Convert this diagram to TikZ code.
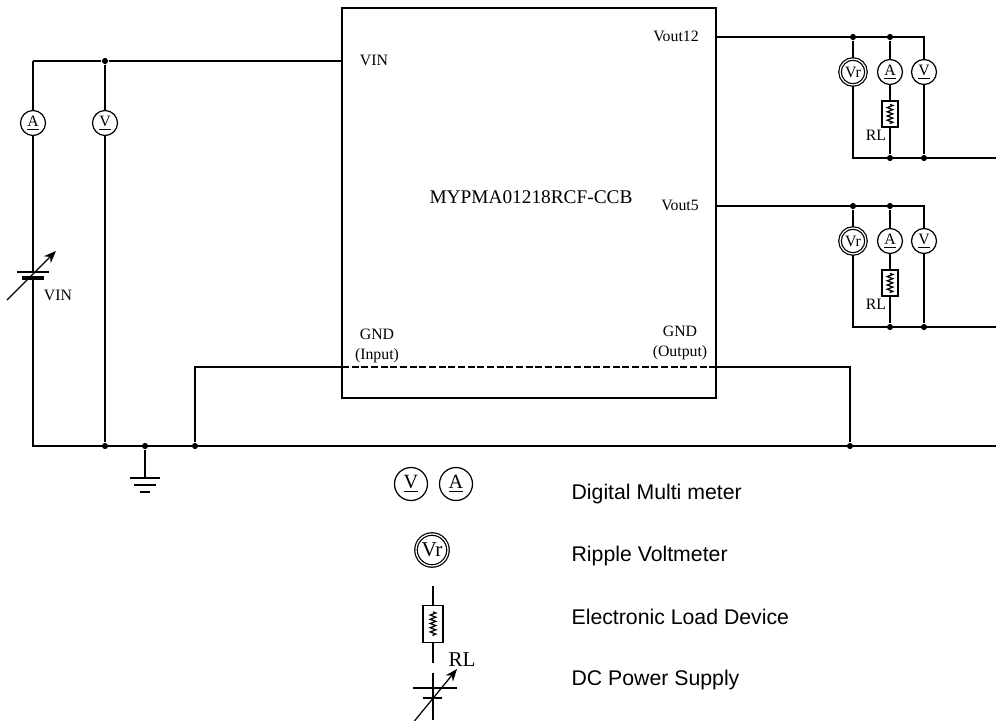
\documentclass[tikz,border=0pt]{standalone}
\usepackage{fontspec}
\setmainfont{Liberation Serif}
\newfontfamily\legendfont{Liberation Sans}
\usepackage{tikz}
\usetikzlibrary{arrows.meta,calc,positioning,decorations.pathmorphing}
\tikzstyle{wire}=[line width=0.7pt]
\tikzstyle{meter}=[circle, draw, line width=0.7pt, minimum size=0.5cm,
                   inner sep=0pt, font=\fontsize{9}{9}\selectfont]
\tikzstyle{rmeter}=[meter, double, double distance=0.7pt, minimum size=0.52cm]
\tikzstyle{bigmeter}=[meter, minimum size=0.66cm,
                   font=\fontsize{11.5}{11.5}\selectfont]
\tikzstyle{junction}=[circle, fill, minimum size=3.5pt, inner sep=0pt]
\tikzstyle{loadbox}=[rectangle, draw, line width=0.7pt, minimum width=0.32cm,
                   minimum height=0.52cm, inner sep=0pt]
\tikzstyle{zig}=[decorate, decoration={zigzag, segment length=2.4pt, amplitude=1.6pt}]
\tikzstyle{pinlabel}=[inner sep=0pt, align=center, font=\fontsize{9}{11.3}\selectfont]
\tikzstyle{legendtext}=[inner sep=0pt, anchor=base west,
                   font=\legendfont\fontsize{12.1}{14}\selectfont]
\tikzstyle{tune}=[-{Stealth[length=7pt,width=5.5pt]}, line width=0.7pt]

\begin{document}
\begin{tikzpicture}[x=0.02cm, y=-0.02cm, wire]
    \useasboundingbox (0,0) rectangle (996,720);

    % converter module
    \node (module) [draw, line width=0.7pt, minimum width=7.48cm,
          minimum height=7.8cm, inner sep=0pt] at (529,203) {};
    \node (vinlbl) [pinlabel] at (374,60) {VIN};
    \node (partno) [pinlabel, font=\fontsize{11}{12}\selectfont] at (531,197) {MYPMA01218RCF-CCB};
    \node (gndin) [pinlabel] at (377,346) {GND\\(Input)};
    \node (gndout) [pinlabel] at (680,343) {GND\\(Output)};

    % input side
    \coordinate (vintl) at (33,61);
    \node (vinj) [junction] at (105,61) {};
    \coordinate (vinpin) at (342,61);
    \draw (vintl) -- (vinj) -- (vinpin);
    \node (amin) [meter] at (33,123) {\underline{A}};
    \node (vmin) [meter] at (105,123) {\underline{V}};

    \coordinate (battop) at (33,272);
    \coordinate (batbot) at (33,278);
    \draw (vintl) -- (amin) -- (battop);
    \draw ($(battop)+(-16,0)$) -- ++(32,0);
    \draw [line width=2pt] ($(batbot)+(-11,0)$) -- ++(22,0);
    \draw [tune] (7,300) -- (56,251);
    \node (vinsrc) [pinlabel] at (58,295) {VIN};

    % ground rail
    \coordinate (gl) at (33,446);
    \coordinate (gr) at (996,446);
    \draw (batbot) -- (gl) -- (gr);
    \foreach \x/\n in {105/a,145/b,195/c,850/d}
        \node (g\n) [junction] at (\x,446) {};
    \draw (vinj) -- (vmin) -- (ga);

    \draw (gb) -- ++(0,32) coordinate (earth);
    \draw ($(earth)+(-15,0)$) -- ++(30,0);
    \draw ($(earth)+(-11,7)$) -- ++(22,0);
    \draw ($(earth)+(-5,14)$) -- ++(10,0);

    \coordinate (gndpinin) at (342,367);
    \coordinate (gndpinout) at (716,367);
    \draw (gc) |- (gndpinin);
    \draw [line width=1.5pt, dash pattern=on 4pt off 1.5pt] (gndpinin) -- (gndpinout);
    \draw (gndpinout) -| (gd);

    % outputs
    \foreach \y/\n/\lx in {37/12/676, 206/5/680} {
        \node (vo\n) [pinlabel] at (\lx,\y-1) {Vout\n};
        \coordinate (out\n) at (716,\y);
        \node (vrj\n) [junction] at (853,\y) {};
        \node (amj\n) [junction] at (890,\y) {};
        \coordinate (vmt\n) at (924,\y);
        \node (vr\n) [rmeter] at (853,\y+35) {Vr};
        \node (am\n) [meter] at (890,\y+35) {\underline{A}};
        \node (vm\n) [meter] at (924,\y+35) {\underline{V}};
        \node (rl\n) [loadbox] at (890,\y+77) {};
        \node (rlt\n) [pinlabel] at (876,\y+98) {RL};
        \coordinate (vrb\n) at (853,\y+121);
        \node (amb\n) [junction] at (890,\y+121) {};
        \node (vmb\n) [junction] at (924,\y+121) {};
        \coordinate (rt\n) at (996,\y+121);
        \draw (out\n) -- (vmt\n) -- (vm\n);
        \draw (vrj\n) -- (vr\n) -- (vrb\n) -- (rt\n);
        \draw (amj\n) -- (am\n) -- (rl\n) -- (amb\n);
        \draw (vm\n) -- (vmb\n);
        \draw [zig] ($(rl\n.north)+(0,4)$) -- ($(rl\n.south)+(0,-4)$);
    }

    % legend
    \node (lgv) [bigmeter] at (411,484) {\underline{V}};
    \node (lga) [bigmeter] at (456,484) {\underline{A}};
    \node (lgvr) [rmeter, minimum size=0.64cm, font=\fontsize{12}{12}\selectfont] at (432,550) {Vr};
    \node (lgrl) [loadbox, minimum width=0.4cm, minimum height=0.74cm] at (433,624) {};
    \coordinate (lgrt) at (433,586);
    \coordinate (lgrb) at (433,663);
    \draw (lgrt) -- (lgrl) -- (lgrb);
    \draw [zig] ($(lgrl.north)+(0,7)$) -- ($(lgrl.south)+(0,-7)$);
    \node (lgrlt) [pinlabel, font=\fontsize{12}{12}\selectfont] at (462,660) {RL};
    \coordinate (lgdct) at (433,673);
    \coordinate (lgdcb) at (433,720);
    \draw (lgdct) -- (lgdcb);
    \draw ($(lgdct)+(-20,15)$) -- ++(44,0);
    \draw ($(lgdct)+(-10,25)$) -- ++(19,0);
    \draw [tune] (412,724) -- (457,669);

    \node (lgt1) [legendtext] at (571,499) {Digital Multi meter};
    \node (lgt2) [legendtext] at (571,561) {Ripple Voltmeter};
    \node (lgt3) [legendtext] at (571,624) {Electronic Load Device};
    \node (lgt4) [legendtext] at (571,685) {DC Power Supply};

\end{tikzpicture}
\end{document}
